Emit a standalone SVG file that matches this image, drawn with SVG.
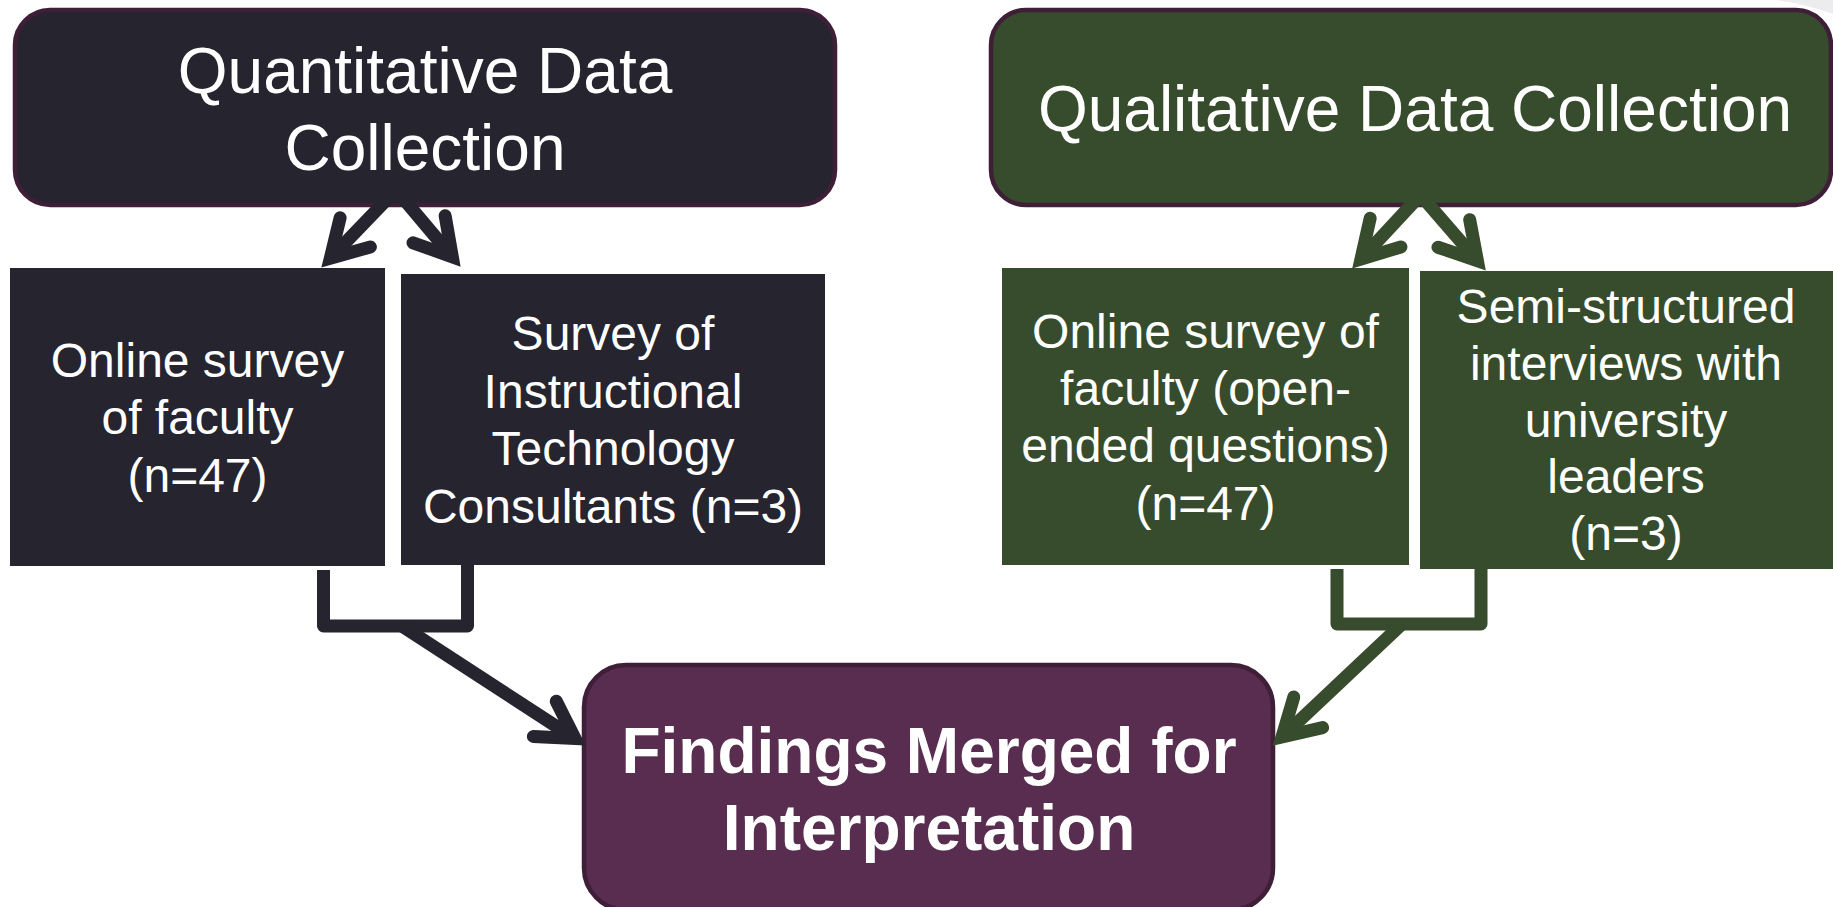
<svg xmlns="http://www.w3.org/2000/svg" width="1833" height="907" viewBox="0 0 1833 907">
<style>
.bg{fill:#ffffff}
.quant{fill:#25242f}
.qual{fill:#374b2d}
.head{stroke:#3e1f37;stroke-width:4.5}
.merge{fill:#592d50;stroke:#3e1f37;stroke-width:4.5}
.t{font-family:"Liberation Sans",Arial,sans-serif;fill:#ffffff;text-anchor:middle}
.t64{font-size:64px}
.t48{font-size:48px}
.bold{font-weight:bold}
.cd{fill:none;stroke:#25242f;stroke-width:13}
.cg{fill:none;stroke:#374b2d;stroke-width:13}
.elbow{stroke-linejoin:round}
</style>
<defs>
<marker id="ahD" markerUnits="userSpaceOnUse" markerWidth="100" markerHeight="100" viewBox="-50 -50 100 100" refX="0" refY="0" orient="auto" overflow="visible">
<path d="M -36,-21 L 0,0 L -36,21" fill="none" stroke="#25242f" stroke-width="13" stroke-linecap="round" stroke-linejoin="miter"/>
</marker>
<marker id="ahG" markerUnits="userSpaceOnUse" markerWidth="100" markerHeight="100" viewBox="-50 -50 100 100" refX="0" refY="0" orient="auto" overflow="visible">
<path d="M -36,-21 L 0,0 L -36,21" fill="none" stroke="#374b2d" stroke-width="13" stroke-linecap="round" stroke-linejoin="miter"/>
</marker>
</defs>
<rect class="bg" x="0" y="0" width="1833" height="907"/>
<path d="M 1776,0 L 1833,0 L 1833,14 Q 1805,4 1776,0 Z" fill="#ececef"/>

<g id="quant-header">
<rect class="quant head" x="15" y="10" width="820" height="195" rx="35" ry="35"/>
<text class="t t64" x="425" y="93">Quantitative Data</text>
<text class="t t64" x="425" y="170">Collection</text>
</g>

<g id="qual-header">
<rect class="qual head" x="991" y="10" width="840" height="195" rx="35" ry="35"/>
<text class="t t64" x="1415" y="131">Qualitative Data Collection</text>
</g>

<g id="quant-online">
<rect class="quant" x="10" y="268" width="375" height="298"/>
<text class="t t48" x="197.5" y="377">Online survey</text>
<text class="t t48" x="197.5" y="434">of faculty</text>
<text class="t t48" x="197.5" y="492">(n=47)</text>
</g>

<g id="quant-itc">
<rect class="quant" x="401" y="274" width="424" height="291"/>
<text class="t t48" x="613" y="350">Survey of</text>
<text class="t t48" x="613" y="408">Instructional</text>
<text class="t t48" x="613" y="465">Technology</text>
<text class="t t48" x="613" y="523">Consultants (n=3)</text>
</g>

<g id="qual-online">
<rect class="qual" x="1002" y="268" width="407" height="297"/>
<text class="t t48" x="1205.5" y="348">Online survey of</text>
<text class="t t48" x="1205.5" y="405">faculty (open-</text>
<text class="t t48" x="1205.5" y="462">ended questions)</text>
<text class="t t48" x="1205.5" y="520">(n=47)</text>
</g>

<g id="qual-interviews">
<rect class="qual" x="1420" y="271" width="413" height="298"/>
<text class="t t48" x="1626" y="323">Semi-structured</text>
<text class="t t48" x="1626" y="380">interviews with</text>
<text class="t t48" x="1626" y="437">university</text>
<text class="t t48" x="1626" y="493">leaders</text>
<text class="t t48" x="1626" y="550">(n=3)</text>
</g>

<g id="findings">
<rect class="merge" x="584" y="665" width="689" height="245" rx="42" ry="42"/>
<text class="t t64 bold" x="929" y="773">Findings Merged for</text>
<text class="t t64 bold" x="929" y="850">Interpretation</text>
</g>

<g id="connectors">
<path class="cd" d="M 396,190 L 330.3,258.3" marker-end="url(#ahD)"/>
<path class="cd" d="M 396,190 L 452.3,256.8" marker-end="url(#ahD)"/>
<path class="cg" d="M 1420.5,195 L 1361,259" marker-end="url(#ahG)"/>
<path class="cg" d="M 1420.5,195 L 1477.4,260.7" marker-end="url(#ahG)"/>
<path class="cd elbow" d="M 323.5,570 V 626 H 467.5 V 565"/>
<path class="cd" d="M 402,626 L 575,738.5" marker-end="url(#ahD)"/>
<path class="cg elbow" d="M 1337,569 V 624 H 1481 V 566"/>
<path class="cg" d="M 1402,624 L 1282,737" marker-end="url(#ahG)"/>
</g>
</svg>
